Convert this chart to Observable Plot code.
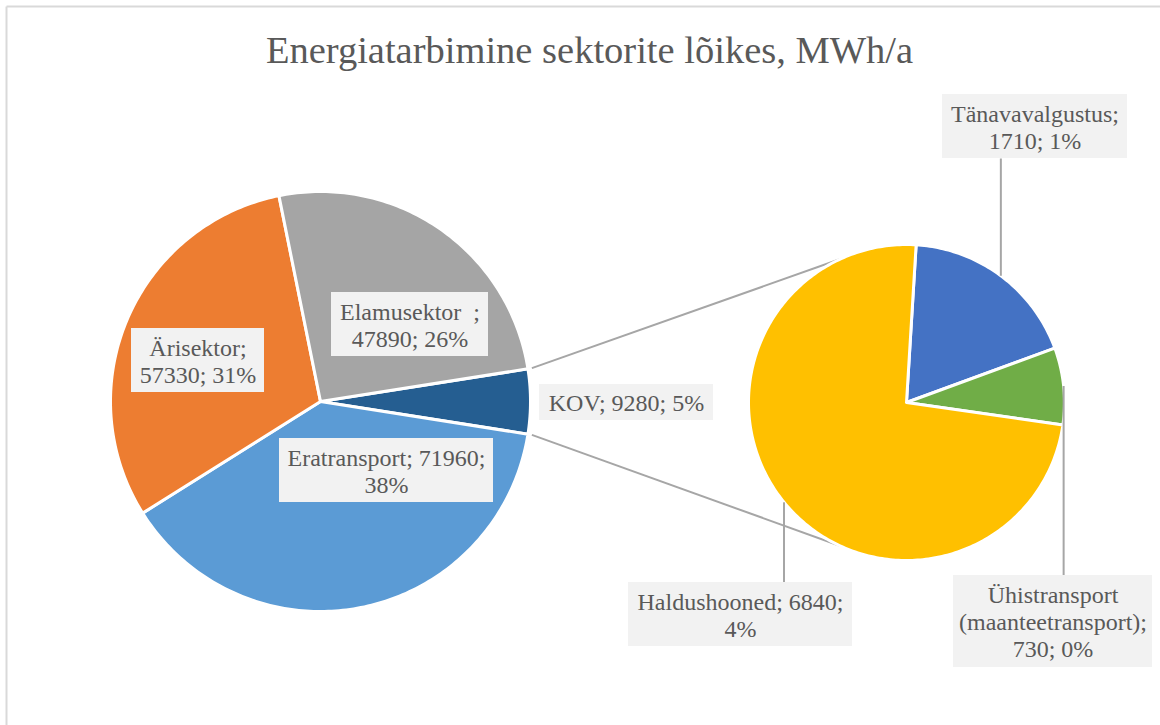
<!DOCTYPE html>
<html><head><meta charset="utf-8">
<script src="https://cdn.jsdelivr.net/npm/d3@7"></script>
<script src="https://cdn.jsdelivr.net/npm/@observablehq/plot@0.6"></script>
<style>body{margin:0;background:#fff;} #chart svg{display:block;}</style>
</head><body><div id="chart"></div>
<script>
// ---- data ----
const title = "Energiatarbimine sektorite lõikes, MWh/a";
const mainNames = ["KOV", "Eratransport", "Ärisektor", "Elamusektor"];
const mainValues = [9280, 71960, 57330, 47890];
const mainLabels = ["KOV; 9280; 5%", "Eratransport; 71960;\n38%", "Ärisektor;\n57330; 31%", "Elamusektor  ;\n47890; 26%"];
const mainColors = ["#255e91", "#5b9bd5", "#ed7d31", "#a5a5a5"];
const secNames = ["Tänavavalgustus", "Ühistransport (maanteetransport)", "Haldushooned"];
const secValues = [1710, 730, 6840];
const secLabels = ["Tänavavalgustus;\n1710; 1%", "Ühistransport\n(maanteetransport);\n730; 0%", "Haldushooned; 6840;\n4%"];
const secColors = ["#4472c4", "#70ad47", "#ffc000"];

// ---- layout ----
const W = 1160, H = 725;
const mainTotal = d3.sum(mainValues);
const MAIN = {cx: 320, cy: 401, r: 210, start: -Math.PI * mainValues[0] / mainTotal};
const SEC = {cx: 906, cy: 402, r: 158, start: -86.5 * Math.PI / 180};
const mainBoxes = [
  {x1: 539, x2: 713, y1: 384, y2: 420},
  {x1: 279, x2: 493, y1: 438, y2: 502},
  {x1: 131, x2: 264, y1: 328, y2: 392},
  {x1: 331, x2: 488, y1: 292, y2: 356}
];
const secBoxes = [
  {x1: 942, x2: 1127, y1: 94, y2: 158},
  {x1: 953, x2: 1152, y1: 575, y2: 667},
  {x1: 628, x2: 852, y1: 582, y2: 646}
];

function slices(names, values, geo) {
  const total = d3.sum(values);
  const pts = [], info = [];
  let a = geo.start;
  names.forEach((name, i) => {
    const a0 = a, a1 = a + values[i] / total * 2 * Math.PI;
    pts.push({name, x: geo.cx, y: geo.cy});
    const n = Math.max(2, Math.ceil((a1 - a0) / (2 * Math.PI) * 360));
    for (let k = 0; k <= n; k++) {
      const t = a0 + (a1 - a0) * k / n;
      pts.push({name, x: geo.cx + geo.r * Math.cos(t), y: geo.cy + geo.r * Math.sin(t)});
    }
    info.push({name, a0, a1, mid: (a0 + a1) / 2});
    a = a1;
  });
  return {pts, info};
}

const mainS = slices(mainNames, mainValues, MAIN);
const secS = slices(secNames, secValues, SEC);

// connectors from the split slice to the secondary pie
const kov = mainS.info[0];
const secAng = 115 * Math.PI / 180;
const connectors = [
  {x1: MAIN.cx + (MAIN.r + 4) * Math.cos(kov.a0), y1: MAIN.cy + (MAIN.r + 4) * Math.sin(kov.a0),
   x2: SEC.cx + SEC.r * Math.cos(-secAng), y2: SEC.cy + SEC.r * Math.sin(-secAng)},
  {x1: MAIN.cx + (MAIN.r + 4) * Math.cos(kov.a1), y1: MAIN.cy + (MAIN.r + 4) * Math.sin(kov.a1),
   x2: SEC.cx + SEC.r * Math.cos(secAng), y2: SEC.cy + SEC.r * Math.sin(secAng)}
];

// leader lines for secondary labels
const leaders = secS.info.map((d, i) => {
  const x = SEC.cx + SEC.r * Math.cos(d.mid), y = SEC.cy + SEC.r * Math.sin(d.mid);
  const b = secBoxes[i];
  const yb = (y < b.y1) ? b.y1 : b.y2;
  return {x1: x, y1: y, x2: x, y2: yb};
});

const labelData = [
  ...mainLabels.map((t, i) => ({text: t, ...mainBoxes[i]})),
  ...secLabels.map((t, i) => ({text: t, ...secBoxes[i]}))
];

const font = "'Liberation Serif', 'Times New Roman', serif";

const chart = Plot.plot({
  width: W, height: H,
  margin: 0,
  x: {domain: [0, W], range: [0, W], axis: null},
  y: {domain: [0, H], range: [0, H], axis: null},
  color: {domain: [...mainNames, ...secNames], range: [...mainColors, ...secColors]},
  style: {background: "#fff", fontFamily: font},
  marks: [
    // chart border (top and left)
    Plot.link([{x1: 6, y1: 6, x2: W, y2: 6}, {x1: 6, y1: 6, x2: 6, y2: H}],
      {x1: "x1", y1: "y1", x2: "x2", y2: "y2", stroke: "#d9d9d9", strokeWidth: 2}),
    Plot.text([title], {x: 589, y: 50, text: d => d, fontSize: 38.5, fill: "#595959", fontFamily: font}),
    Plot.link(connectors, {x1: "x1", y1: "y1", x2: "x2", y2: "y2", stroke: "#a6a6a6", strokeWidth: 2}),
    Plot.line(mainS.pts, {x: "x", y: "y", z: "name", fill: "name", stroke: "white", strokeWidth: 3, curve: "linear-closed", strokeLinejoin: "round"}),
    Plot.line(secS.pts, {x: "x", y: "y", z: "name", fill: "name", stroke: "white", strokeWidth: 3, curve: "linear-closed", strokeLinejoin: "round"}),
    Plot.link(leaders, {x1: "x1", y1: "y1", x2: "x2", y2: "y2", stroke: "#a6a6a6", strokeWidth: 2}),
    Plot.rect(labelData, {x1: "x1", x2: "x2", y1: "y1", y2: "y2", fill: "#f2f2f2"}),
    Plot.text(labelData, {x: d => (d.x1 + d.x2) / 2, y: d => (d.y1 + d.y2) / 2, text: "text",
      fontSize: 24, lineHeight: 1.13, fill: "#595959", fontFamily: font})
  ]
});
document.getElementById("chart").appendChild(chart);
</script>
</body></html>
